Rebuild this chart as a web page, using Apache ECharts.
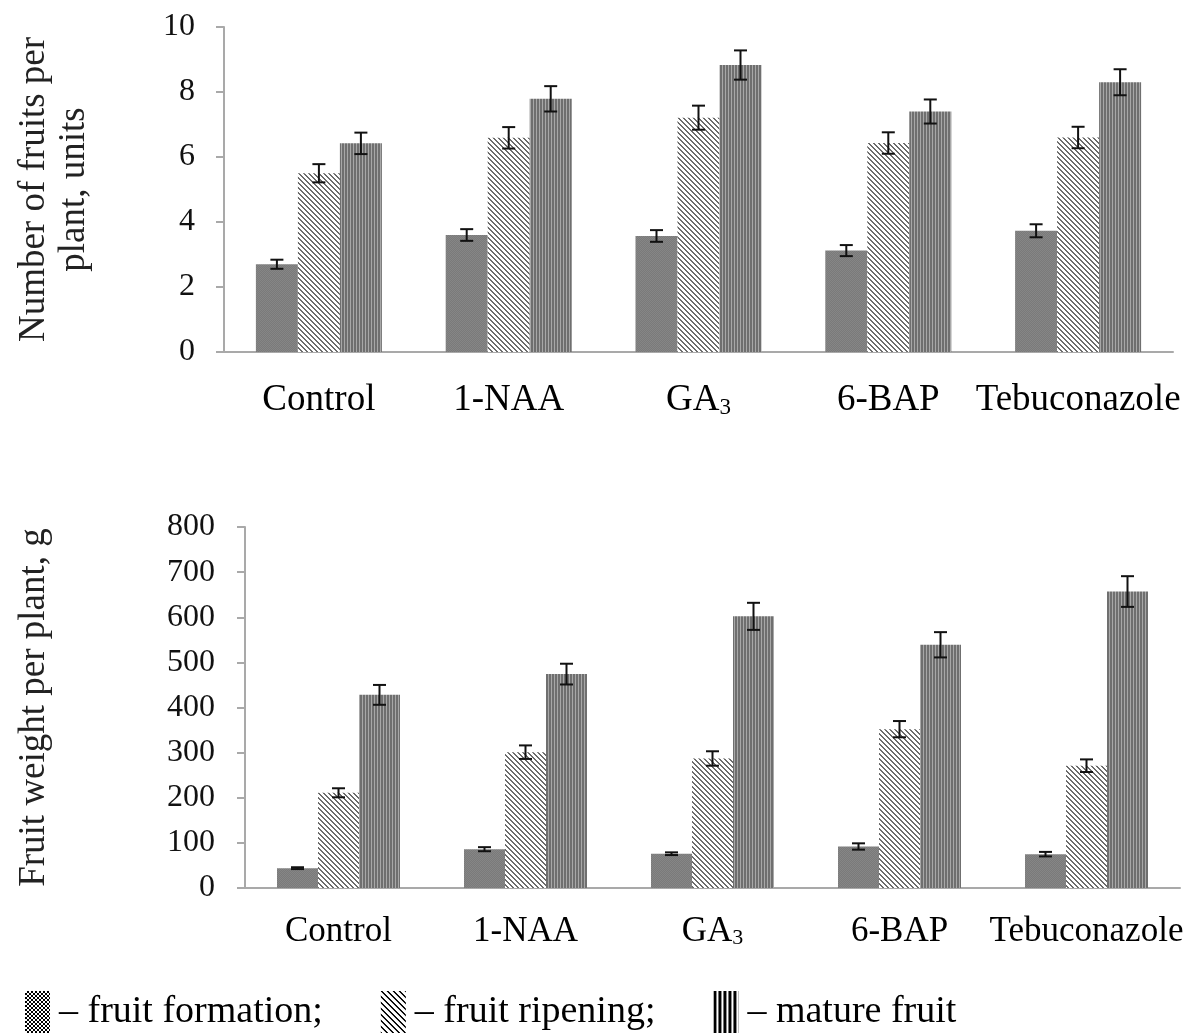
<!DOCTYPE html>
<html>
<head>
<meta charset="utf-8">
<script src="https://cdn.jsdelivr.net/npm/echarts@6/dist/echarts.min.js"></script>
<style>
html,body{margin:0;padding:0;background:#fff;}
#chart{width:1202px;height:1036px;}
</style>
</head>
<body>
<div id="chart"></div>
<script>
// ---------- data ----------
const categories = ['Control', '1-NAA', 'GA3', '6-BAP', 'Tebuconazole'];
const seriesNames = ['fruit formation', 'fruit ripening', 'mature fruit'];

// Number of fruits per plant, units
const countFormation = [2.7, 3.6, 3.57, 3.12, 3.73];
const countRipening  = [5.5, 6.59, 7.21, 6.43, 6.6];
const countMature    = [6.42, 7.79, 8.83, 7.4, 8.3];
const countFormationErr = [0.14, 0.18, 0.18, 0.17, 0.2];
const countRipeningErr  = [0.28, 0.33, 0.37, 0.33, 0.33];
const countMatureErr    = [0.33, 0.39, 0.45, 0.37, 0.4];

// Fruit weight per plant, g
const weightFormation = [44, 86, 76, 92, 75];
const weightRipening  = [211, 301, 287, 352, 271];
const weightMature    = [428, 474, 602, 539, 657];
const weightFormationErr = [2, 4.5, 3, 7, 5];
const weightRipeningErr  = [10, 15, 16, 18, 14];
const weightMatureErr    = [22, 23, 30, 28, 34];

const countAxis  = { min: 0, max: 10, interval: 2 };
const weightAxis = { min: 0, max: 800, interval: 100 };

// ---------- patterns ----------
function pattern(w, h, draw) {
  const c = document.createElement('canvas');
  c.width = w; c.height = h;
  const ctx = c.getContext('2d');
  draw(ctx, w, h);
  return { image: c, repeat: 'repeat' };
}
function pixelPattern(n, fn) {
  return pattern(n, n, function (ctx) {
    for (let x = 0; x < n; x++) for (let y = 0; y < n; y++) {
      ctx.fillStyle = fn(x, y);
      ctx.fillRect(x, y, 1, 1);
    }
  });
}
const fillFormation = pixelPattern(2, (x, y) => ((x + y) % 2 ? '#7a7a7a' : '#868686'));
const fillRipening  = pixelPattern(5, (x, y) => (((x - y + 10) % 5) < 2 ? '#6c6c6c' : '#ffffff'));
const fillMature    = pattern(3, 1, function (ctx) {
  ctx.fillStyle = '#6f6f6f'; ctx.fillRect(0, 0, 3, 1);
  ctx.fillStyle = '#a8a8a8'; ctx.fillRect(2, 0, 1, 1);
});
const legFormation = pixelPattern(4, (x, y) => (((x >> 1) + (y >> 1)) % 2 ? '#000' : '#fff'));
const legRipening  = pixelPattern(6, (x, y) => (((x - y + 12) % 6) < 2 ? '#000' : '#fff'));
const legMature    = pattern(5, 1, function (ctx) {
  ctx.fillStyle = '#fff'; ctx.fillRect(0, 0, 5, 1);
  ctx.fillStyle = '#000'; ctx.fillRect(0, 0, 3, 1);
});

const FONT = '"Liberation Serif", "Times New Roman", serif';
const fills = [fillFormation, fillRipening, fillMature];

// ---------- helpers ----------
function errRenderer(k, bw) {
  return function (params, api) {
    const cat = api.value(0), v = api.value(1), e = api.value(2);
    const p = api.coord([cat, v]);
    const cx = p[0] + (k - 1) * bw;
    const yt = api.coord([cat, v + e])[1];
    const yb = api.coord([cat, v - e])[1];
    const hw = 6.5;
    const st = { stroke: '#111', lineWidth: 2 };
    return {
      type: 'group',
      children: [
        { type: 'line', shape: { x1: cx, y1: yt, x2: cx, y2: yb }, style: st },
        { type: 'line', shape: { x1: cx - hw, y1: yt, x2: cx + hw, y2: yt }, style: st },
        { type: 'line', shape: { x1: cx - hw, y1: yb, x2: cx + hw, y2: yb }, style: st }
      ]
    };
  };
}

function buildSeries(gridIdx, vals, errs, bw) {
  const out = [];
  vals.forEach(function (arr, k) {
    out.push({
      type: 'bar', name: seriesNames[k], xAxisIndex: gridIdx, yAxisIndex: gridIdx,
      data: arr, barWidth: bw, barGap: '0%',
      itemStyle: { color: fills[k] },
      emphasis: { disabled: true }, z: 2
    });
  });
  vals.forEach(function (arr, k) {
    out.push({
      type: 'custom', name: 'err' + gridIdx + '_' + k, xAxisIndex: gridIdx, yAxisIndex: gridIdx,
      data: arr.map((v, i) => [i, v, errs[k][i]]),
      renderItem: errRenderer(k, bw), z: 5, silent: true
    });
  });
  return out;
}

function catLabel(size, margin) {
  return {
    margin: margin, color: '#000',
    formatter: function (v) { return v === 'GA3' ? '{m|GA}{s|3}' : '{m|' + v + '}'; },
    rich: {
      m: { fontFamily: FONT, fontSize: size, color: '#000' },
      s: { fontFamily: FONT, fontSize: Math.round(size * 0.62), color: '#000', verticalAlign: 'bottom' }
    }
  };
}

const axisLineStyle = { color: '#a9a9a9', width: 2 };

const option = {
  backgroundColor: '#fff',
  animation: false,
  legend: {
    left: 20, top: 986,
    itemWidth: 25, itemHeight: 42, itemGap: 58,
    icon: 'rect',
    selectedMode: false,
    textStyle: { fontFamily: FONT, fontSize: 38, color: '#000', padding: [0, 0, 0, 4] },
    formatter: function (n) {
      return n === 'fruit formation' ? '– fruit formation;' : n === 'fruit ripening' ? '– fruit ripening;' : '– mature fruit';
    },
    data: [
      { name: seriesNames[0], itemStyle: { color: legFormation } },
      { name: seriesNames[1], itemStyle: { color: legRipening } },
      { name: seriesNames[2], itemStyle: { color: legMature } }
    ]
  },
  grid: [
    { left: 224, right: 29, top: 27, height: 325 },
    { left: 245, right: 22, top: 527, height: 361 }
  ],
  xAxis: [
    {
      type: 'category', gridIndex: 0, data: categories,
      axisLine: { lineStyle: axisLineStyle }, axisTick: { show: false },
      axisLabel: catLabel(37, 30)
    },
    {
      type: 'category', gridIndex: 1, data: categories,
      axisLine: { lineStyle: axisLineStyle }, axisTick: { show: false },
      axisLabel: catLabel(35, 26)
    }
  ],
  yAxis: [
    {
      type: 'value', gridIndex: 0, min: countAxis.min, max: countAxis.max, interval: countAxis.interval,
      axisLine: { show: true, lineStyle: axisLineStyle },
      axisTick: { show: true, length: 8, lineStyle: { color: '#a9a9a9', width: 2 } },
      splitLine: { show: false },
      axisLabel: { fontFamily: FONT, fontSize: 32, color: '#111', margin: 29 },
      name: 'Number of fruits per\nplant, units', nameLocation: 'middle', nameRotate: 90, nameGap: 130,
      nameTextStyle: { fontFamily: FONT, fontSize: 37, color: '#222', lineHeight: 40 }
    },
    {
      type: 'value', gridIndex: 1, min: weightAxis.min, max: weightAxis.max, interval: weightAxis.interval,
      axisLine: { show: true, lineStyle: axisLineStyle },
      axisTick: { show: true, length: 8, lineStyle: { color: '#a9a9a9', width: 2 } },
      splitLine: { show: false },
      axisLabel: { fontFamily: FONT, fontSize: 32, color: '#111', margin: 30 },
      name: 'Fruit weight per plant, g', nameLocation: 'middle', nameRotate: 90, nameGap: 192,
      nameTextStyle: { fontFamily: FONT, fontSize: 37, color: '#222' }
    }
  ],
  series: [].concat(
    buildSeries(0, [countFormation, countRipening, countMature], [countFormationErr, countRipeningErr, countMatureErr], 42),
    buildSeries(1, [weightFormation, weightRipening, weightMature], [weightFormationErr, weightRipeningErr, weightMatureErr], 41)
  )
};

const chart = echarts.init(document.getElementById('chart'), null, { renderer: 'canvas' });
chart.setOption(option);
</script>
</body>
</html>
